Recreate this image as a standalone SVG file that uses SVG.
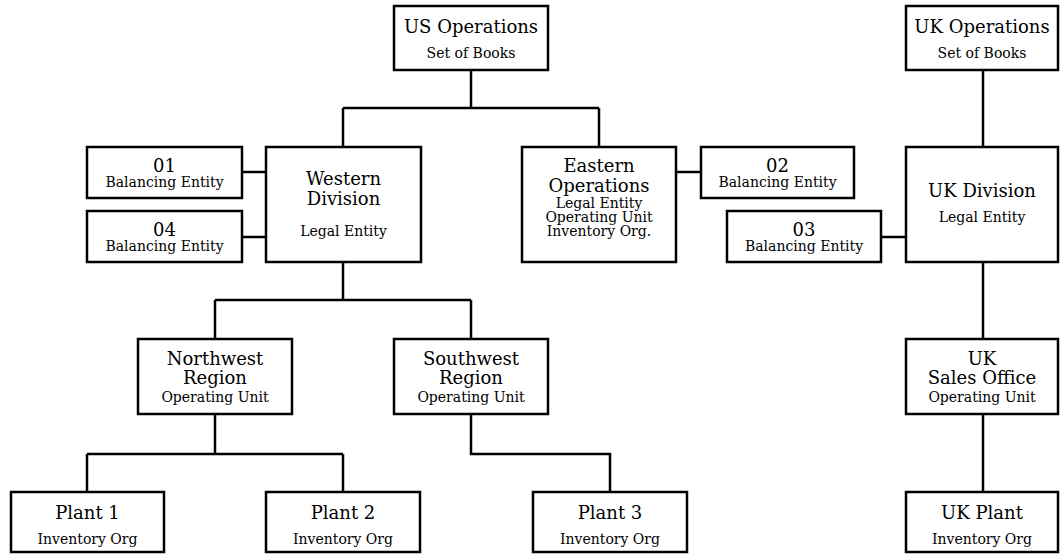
<svg xmlns="http://www.w3.org/2000/svg" width="1060" height="556" viewBox="0 0 1060 556">
<style>
rect{fill:#fff;stroke:#000;stroke-width:2.5}
.c path{fill:none;stroke:#000;stroke-width:2.5}
text{font-family:"DejaVu Serif","Liberation Serif",serif;fill:#000;text-anchor:middle}
.t{font-size:18px}
.s{font-size:14px}
</style>
<rect x="0" y="0" width="1060" height="556" style="stroke:none"/>
<g class="c" id="connectors">
<path d="M471,70V108M343,108H599M343,108V147M599,108V147"/>
<path d="M242,172H266M242,237H266M676,172H701M881,237H906"/>
<path d="M983,70V147M983,262V339M983,414V492"/>
<path d="M343,262V300M215,300H471M215,300V339M471,300V339"/>
<path d="M215,414V454M87,454H343M87,454V492M343,454V492"/>
<path d="M471,414V454H610V492"/>
</g>
<g id="us-operations"><rect x="394" y="6" width="154" height="64"/><text class="t" x="471" y="33">US Operations</text><text class="s" x="471" y="58">Set of Books</text></g>
<g id="uk-operations"><rect x="906" y="6" width="152" height="64"/><text class="t" x="982" y="33">UK Operations</text><text class="s" x="982" y="58">Set of Books</text></g>
<g id="western-division"><rect x="266" y="147" width="155" height="115"/><text class="t" x="343.5" y="185">Western</text><text class="t" x="343.5" y="205">Division</text><text class="s" x="343.5" y="236">Legal Entity</text></g>
<g id="eastern-operations"><rect x="522" y="147" width="154" height="115"/><text class="t" x="599" y="172">Eastern</text><text class="t" x="599" y="192">Operations</text><text class="s" x="599" y="208">Legal Entity</text><text class="s" x="599" y="222">Operating Unit</text><text class="s" x="599" y="236">Inventory Org.</text></g>
<g id="be-01"><rect x="87" y="147" width="155" height="51"/><text class="t" x="164.5" y="172">01</text><text class="s" x="164.5" y="187">Balancing Entity</text></g>
<g id="be-04"><rect x="87" y="211" width="155" height="51"/><text class="t" x="164.5" y="236">04</text><text class="s" x="164.5" y="251">Balancing Entity</text></g>
<g id="be-02"><rect x="701" y="147" width="153" height="51"/><text class="t" x="777.5" y="172">02</text><text class="s" x="777.5" y="187">Balancing Entity</text></g>
<g id="be-03"><rect x="727" y="211" width="154" height="51"/><text class="t" x="804" y="236">03</text><text class="s" x="804" y="251">Balancing Entity</text></g>
<g id="uk-division"><rect x="906" y="147" width="152" height="115"/><text class="t" x="982" y="197">UK Division</text><text class="s" x="982" y="222">Legal Entity</text></g>
<g id="northwest-region"><rect x="138" y="339" width="154" height="75"/><text class="t" x="215" y="365">Northwest</text><text class="t" x="215" y="384">Region</text><text class="s" x="215" y="402">Operating Unit</text></g>
<g id="southwest-region"><rect x="394" y="339" width="154" height="75"/><text class="t" x="471" y="365">Southwest</text><text class="t" x="471" y="384">Region</text><text class="s" x="471" y="402">Operating Unit</text></g>
<g id="uk-sales-office"><rect x="906" y="339" width="152" height="75"/><text class="t" x="982" y="365">UK</text><text class="t" x="982" y="384">Sales Office</text><text class="s" x="982" y="402">Operating Unit</text></g>
<g id="plant-1"><rect x="11" y="492" width="153" height="60"/><text class="t" x="87.5" y="519">Plant 1</text><text class="s" x="87.5" y="544">Inventory Org</text></g>
<g id="plant-2"><rect x="266" y="492" width="154" height="60"/><text class="t" x="343" y="519">Plant 2</text><text class="s" x="343" y="544">Inventory Org</text></g>
<g id="plant-3"><rect x="533" y="492" width="154" height="60"/><text class="t" x="610" y="519">Plant 3</text><text class="s" x="610" y="544">Inventory Org</text></g>
<g id="uk-plant"><rect x="906" y="492" width="152" height="60"/><text class="t" x="982" y="519">UK Plant</text><text class="s" x="982" y="544">Inventory Org</text></g>
</svg>
